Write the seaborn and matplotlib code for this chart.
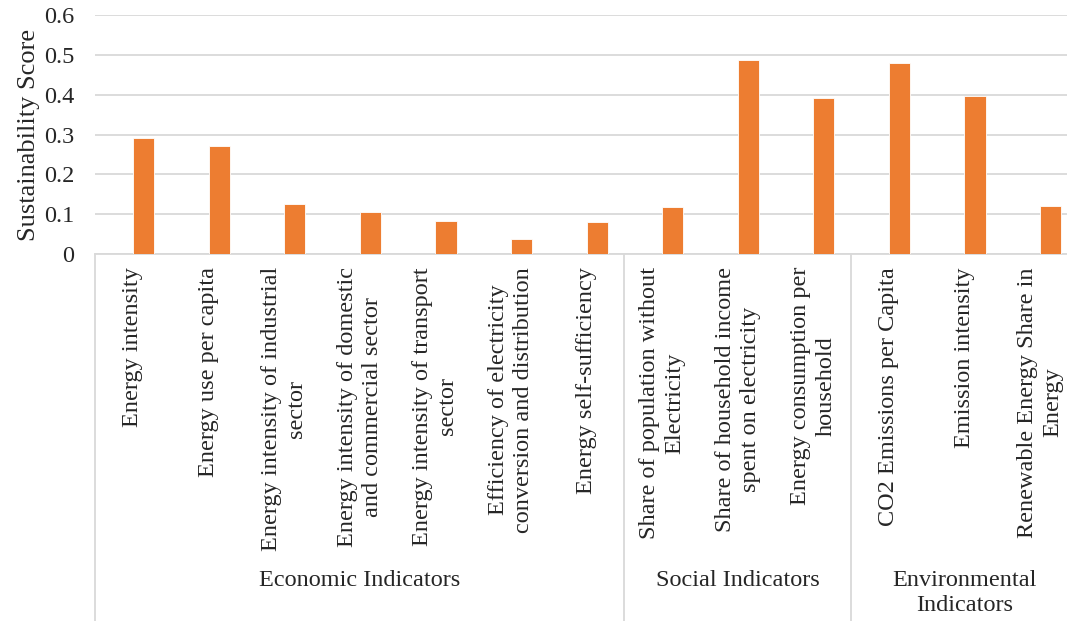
import matplotlib
matplotlib.use("Agg")
import matplotlib.pyplot as plt
import matplotlib.transforms as mtransforms
import numpy as np
import pandas as pd
import seaborn as sns

# Indicator names (line breaks as wrapped on the category axis)
indicators = [
    "Energy intensity",
    "Energy use per capita",
    "Energy intensity of industrial\nsector",
    "Energy intensity of domestic\nand commercial sector",
    "Energy intensity of transport\nsector",
    "Efficiency of electricity\nconversion and distribution",
    "Energy self-sufficiency",
    "Share of population without\nElectricity",
    "Share of household income\nspent on electricity",
    "Energy consumption per\nhousehold",
    "CO2 Emissions per Capita",
    "Emission intensity",
    "Renewable Energy Share in\nEnergy",
]
scores = [0.291, 0.272, 0.126, 0.106, 0.083, 0.038, 0.080,
          0.119, 0.487, 0.391, 0.480, 0.397, 0.120]
groups = ["Economic Indicators", "Social Indicators", "Environmental\nIndicators"]
group_sizes = [7, 3, 3]
y_ticks = [0, 0.1, 0.2, 0.3, 0.4, 0.5, 0.6]
y_tick_labels = ["0", "0.1", "0.2", "0.3", "0.4", "0.5", "0.6"]

sns.set_style("white")
plt.rcParams["font.family"] = ["Liberation Serif", "DejaVu Serif"]

BAR_COLOR = "#ED7D31"
GRID_COLOR = "#D9D9D9"
FS = 17.5
bar_width = 0.28

slots = np.arange(len(indicators))
df = pd.DataFrame({
    "indicator": indicators,
    "score": scores,
    # second series of a clustered pair: bar sits just right of slot centre
    "pos": slots + bar_width / 2,
})

fig = plt.figure(figsize=(10.67, 6.21), dpi=100)
ax = fig.add_axes([0.0892, 0.591, 0.921, 0.3844])

sns.barplot(data=df, x="pos", y="score", native_scale=True, width=bar_width,
            color=BAR_COLOR, saturation=1, edgecolor="white", linewidth=0.6,
            errorbar=None, ax=ax, zorder=3)

ax.set_xlim(-0.5, len(indicators) - 0.5)
ax.set_ylim(0, 0.6)
ax.set_yticks(y_ticks)
ax.set_yticklabels(y_tick_labels, fontsize=FS)
ax.tick_params(axis="y", length=0, pad=15)
ax.set_xticks([])
ax.set_xlabel("")
ax.set_ylabel("Sustainability Score", fontsize=19, labelpad=3)
ax.yaxis.grid(True, color=GRID_COLOR, linewidth=1.3, zorder=0)
ax.set_axisbelow(True)
for side in ("left", "right", "top"):
    ax.spines[side].set_visible(False)
ax.spines["bottom"].set_color(GRID_COLOR)
ax.spines["bottom"].set_linewidth(1.3)

# Category labels under each slot
label_trans = mtransforms.blended_transform_factory(ax.transData, fig.transFigure)
label_top = 1 - 267 / 621
for x, name in zip(slots, indicators):
    ax.text(x, label_top, name, transform=label_trans, rotation=90,
            ha="center", va="top", multialignment="center", fontsize=FS,
            linespacing=1.25, clip_on=False)

# Group labels and separators
axis_bottom = 0.591
start = -0.5
edges = [start]
for g, n in zip(groups, group_sizes):
    end = start + n
    y = 580 if "\n" not in g else 593
    ax.text((start + end) / 2, 1 - y / 621, g, transform=label_trans,
            ha="center", va="center", fontsize=FS, linespacing=1.28,
            clip_on=False)
    edges.append(end)
    start = end
for e in edges:
    ax.plot([e, e], [0, axis_bottom], transform=label_trans, color=GRID_COLOR,
            linewidth=1.3, clip_on=False)

fig.savefig("out.png", dpi=100)
